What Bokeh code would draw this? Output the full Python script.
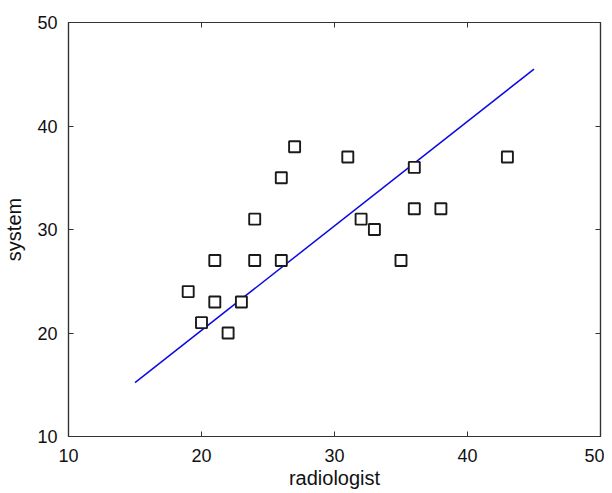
from bokeh.plotting import figure
from bokeh.models import LinearAxis, Range1d, FixedTicker, CustomJSTickFormatter
from bokeh.embed import file_html
from bokeh.resources import INLINE

radiologist = [19, 20, 21, 21, 22, 23, 24, 24, 26, 26, 27, 31, 32, 33, 35, 36, 36, 38, 43]
system = [24, 21, 27, 23, 20, 23, 31, 27, 35, 27, 38, 37, 31, 30, 27, 36, 32, 32, 37]
fit_x = [15, 45]
fit_y = [15.2, 45.5]
ticks = [10, 20, 30, 40, 50]

FONT = "Liberation Sans"
AX = "#333333"

p = figure(width=604, height=493, output_backend="svg", toolbar_location=None,
           x_range=Range1d(10, 50), y_range=Range1d(10, 50),
           min_border_left=67, min_border_right=4, min_border_top=22, min_border_bottom=57,
           x_axis_label="radiologist", y_axis_label="system")
p.grid.visible = False
p.outline_line_color = AX
p.outline_line_width = 1.2
p.background_fill_color = "white"
p.border_fill_color = "white"

for ax in (p.xaxis[0], p.yaxis[0]):
    ax.ticker = FixedTicker(ticks=ticks)
    ax.minor_tick_line_color = None
    ax.major_tick_in = 5
    ax.major_tick_out = 0
    ax.axis_line_color = AX
    ax.axis_line_width = 1.2
    ax.major_tick_line_color = AX
    ax.major_label_text_font = FONT
    ax.major_label_text_font_size = "18px"
    ax.major_label_text_color = "#111111"
    ax.axis_label_text_font = FONT
    ax.axis_label_text_font_size = "20px"
    ax.axis_label_text_font_style = "normal"
    ax.axis_label_text_color = "#111111"
p.xaxis[0].major_label_standoff = 12
p.xaxis[0].axis_label_standoff = 2
p.yaxis[0].major_label_standoff = 11
p.yaxis[0].axis_label_standoff = 9

blank = CustomJSTickFormatter(code="return '';")
for loc in ("above", "right"):
    ax = LinearAxis(ticker=FixedTicker(ticks=ticks), formatter=blank)
    ax.minor_tick_line_color = None
    ax.major_tick_in = 5
    ax.major_tick_out = 0
    ax.major_label_standoff = 0
    ax.major_label_text_font_size = "1px"
    ax.axis_line_color = AX
    ax.axis_line_width = 1.2
    ax.major_tick_line_color = AX
    p.add_layout(ax, loc)

p.line(fit_x, fit_y, line_color="#0a0ae0", line_width=1.5)
p.scatter(radiologist, system, marker="square", size=11, fill_color="white",
          line_color="#1a1a1a", line_width=1.9)

open("out.html", "w").write(file_html(p, INLINE))
